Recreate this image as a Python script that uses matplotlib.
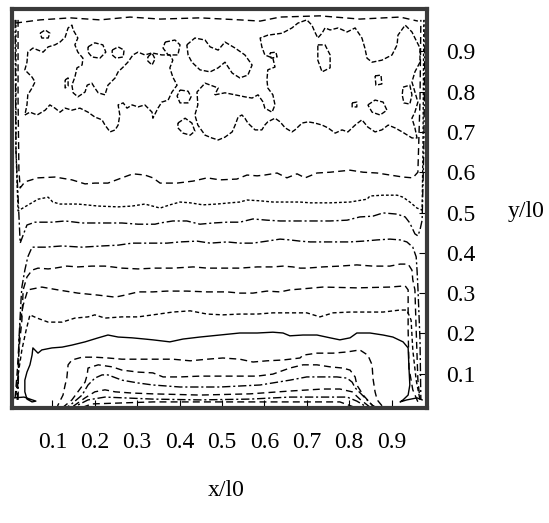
import matplotlib
matplotlib.use("Agg")
import matplotlib.pyplot as plt

# ---------------- data (x/l0, y/l0) ----------------
x_ticks = [0.1, 0.2, 0.3, 0.4, 0.5, 0.6, 0.7, 0.8, 0.9]
y_ticks = [0.1, 0.2, 0.3, 0.4, 0.5, 0.6, 0.7, 0.8, 0.9]
x_tick_labels = ["0.1", "0.2", "0.3", "0.4", "0.5", "0.6", "0.7", "0.8", "0.9"]
y_tick_labels = ["0.1", "0.2", "0.3", "0.4", "0.5", "0.6", "0.7", "0.8", "0.9"]

# iso-lines, top to bottom
line_a = [(0.019,0.978),(0.019,0.779),(0.021,0.605),(0.024,0.561),(0.035,0.576),(0.066,0.586),(0.106,0.588),
          (0.146,0.581),(0.177,0.571),(0.200,0.573),(0.231,0.573),(0.264,0.586),(0.290,0.596),(0.318,0.593),
          (0.337,0.586),(0.354,0.573),(0.394,0.573),(0.432,0.578),(0.465,0.586),(0.495,0.581),(0.535,0.583),
          (0.559,0.593),(0.583,0.591),(0.601,0.593),(0.630,0.598),(0.653,0.586),(0.677,0.596),(0.696,0.586),
          (0.724,0.598),(0.755,0.600),(0.802,0.605),(0.833,0.600),(0.866,0.598),(0.896,0.593),(0.927,0.588),
          (0.950,0.586),(0.962,0.600),(0.967,0.779),(0.969,0.978)]
line_b = [(0.014,0.978),(0.014,0.655),(0.019,0.504),(0.035,0.514),(0.066,0.533),(0.090,0.538),(0.101,0.526),
          (0.118,0.521),(0.160,0.521),(0.208,0.516),(0.255,0.514),(0.288,0.516),(0.318,0.521),(0.354,0.511),
          (0.377,0.519),(0.401,0.526),(0.425,0.524),(0.455,0.519),(0.488,0.521),(0.519,0.524),(0.542,0.526),
          (0.559,0.531),(0.590,0.529),(0.620,0.526),(0.653,0.526),(0.684,0.526),(0.708,0.524),(0.755,0.524),
          (0.802,0.526),(0.842,0.533),(0.849,0.541),(0.880,0.543),(0.913,0.543),(0.927,0.538),(0.943,0.526),
          (0.960,0.511),(0.972,0.506),(0.974,0.655),(0.976,0.978)]
line_c = [(0.012,0.978),(0.014,0.655),(0.024,0.424),(0.031,0.444),(0.040,0.469),(0.059,0.476),(0.099,0.476),
          (0.130,0.479),(0.170,0.474),(0.224,0.474),(0.264,0.474),(0.302,0.471),(0.342,0.471),(0.354,0.474),
          (0.384,0.479),(0.417,0.479),(0.448,0.471),(0.479,0.474),(0.512,0.476),(0.542,0.476),(0.573,0.484),
          (0.606,0.481),(0.637,0.479),(0.684,0.479),(0.708,0.479),(0.755,0.479),(0.795,0.481),(0.825,0.489),
          (0.856,0.491),(0.880,0.499),(0.913,0.496),(0.932,0.489),(0.943,0.474),(0.955,0.447),(0.962,0.442),
          (0.967,0.457),(0.972,0.481),(0.976,0.655),(0.979,0.978)]
line_d = [(0.019,0.035),(0.021,0.184),(0.026,0.283),(0.028,0.315),(0.035,0.357),(0.042,0.390),(0.052,0.414),
          (0.083,0.414),(0.123,0.417),(0.170,0.414),(0.217,0.417),(0.255,0.419),(0.288,0.424),(0.318,0.424),
          (0.342,0.424),(0.370,0.424),(0.401,0.427),(0.441,0.429),(0.472,0.424),(0.512,0.427),(0.542,0.424),
          (0.573,0.424),(0.606,0.429),(0.637,0.434),(0.660,0.432),(0.684,0.429),(0.708,0.427),(0.755,0.427),
          (0.802,0.427),(0.833,0.429),(0.866,0.432),(0.896,0.434),(0.920,0.432),(0.936,0.427),(0.950,0.414),
          (0.958,0.390),(0.960,0.357),(0.962,0.315),(0.967,0.184),(0.969,0.035)]
line_e = [(0.017,0.035),(0.021,0.159),(0.028,0.233),(0.031,0.308),(0.040,0.340),(0.052,0.357),(0.066,0.362),
          (0.090,0.360),(0.106,0.362),(0.134,0.367),(0.160,0.365),(0.193,0.367),(0.224,0.367),(0.241,0.365),
          (0.264,0.362),(0.302,0.360),(0.342,0.362),(0.384,0.362),(0.432,0.365),(0.465,0.362),(0.512,0.362),
          (0.542,0.362),(0.583,0.365),(0.620,0.365),(0.644,0.367),(0.667,0.365),(0.684,0.362),(0.700,0.362),
          (0.738,0.365),(0.778,0.367),(0.818,0.370),(0.856,0.367),(0.896,0.367),(0.920,0.372),(0.939,0.372),
          (0.948,0.357),(0.950,0.333),(0.955,0.308),(0.958,0.208),(0.962,0.084),(0.967,0.035)]
line_f = [(0.012,0.040),(0.017,0.104),(0.024,0.228),(0.031,0.270),(0.042,0.308),(0.075,0.315),(0.113,0.308),
          (0.160,0.300),(0.208,0.295),(0.248,0.290),(0.271,0.295),(0.302,0.303),(0.337,0.303),(0.370,0.305),
          (0.417,0.305),(0.465,0.303),(0.512,0.303),(0.542,0.300),(0.573,0.300),(0.606,0.305),(0.637,0.303),
          (0.660,0.308),(0.684,0.310),(0.738,0.315),(0.818,0.313),(0.896,0.315),(0.932,0.318),(0.939,0.308),
          (0.939,0.208),(0.941,0.114),(0.950,0.060),(0.962,0.030)]
line_g = [(0.014,0.047),(0.019,0.097),(0.028,0.159),(0.038,0.208),(0.047,0.246),(0.064,0.238),(0.090,0.228),
          (0.123,0.228),(0.153,0.238),(0.184,0.241),(0.200,0.246),(0.224,0.238),(0.264,0.241),(0.302,0.241),
          (0.337,0.246),(0.384,0.253),(0.425,0.256),(0.465,0.248),(0.502,0.246),(0.542,0.248),(0.583,0.248),
          (0.620,0.251),(0.660,0.251),(0.700,0.251),(0.731,0.241),(0.762,0.251),(0.802,0.253),(0.842,0.253),
          (0.880,0.253),(0.920,0.258),(0.936,0.258),(0.946,0.233),(0.950,0.159),(0.958,0.084),(0.967,0.035)]
line_h = [(0.009,0.040),(0.033,0.042),(0.061,0.032),(0.052,0.030),(0.040,0.037),(0.035,0.055),(0.035,0.084),
          (0.040,0.104),(0.047,0.122),(0.052,0.146),(0.054,0.164),(0.066,0.151),(0.075,0.159),(0.099,0.164),
          (0.123,0.166),(0.146,0.171),(0.177,0.179),(0.208,0.189),(0.231,0.196),(0.255,0.191),(0.288,0.189),
          (0.318,0.186),(0.337,0.184),(0.377,0.179),(0.408,0.186),(0.448,0.191),(0.495,0.196),(0.542,0.201),
          (0.583,0.201),(0.620,0.203),(0.644,0.201),(0.660,0.194),(0.691,0.196),(0.724,0.196),(0.755,0.189),
          (0.778,0.184),(0.802,0.189),(0.818,0.201),(0.849,0.201),(0.880,0.196),(0.903,0.191),(0.927,0.179),
          (0.939,0.164),(0.941,0.114),(0.943,0.072),(0.939,0.047),(0.927,0.035),(0.920,0.030),(0.936,0.035),
          (0.960,0.040),(0.972,0.035)]
line_i = [(0.111,0.010),(0.113,0.022),(0.125,0.047),(0.130,0.072),(0.134,0.089),(0.137,0.122),(0.146,0.134),
          (0.170,0.141),(0.200,0.141),(0.231,0.139),(0.264,0.136),(0.302,0.136),(0.337,0.136),(0.384,0.136),
          (0.425,0.132),(0.465,0.136),(0.502,0.139),(0.542,0.136),(0.573,0.129),(0.606,0.132),(0.644,0.134),
          (0.684,0.139),(0.691,0.146),(0.724,0.151),(0.762,0.151),(0.795,0.154),(0.825,0.159),(0.844,0.146),
          (0.854,0.122),(0.856,0.089),(0.861,0.055),(0.866,0.035),(0.880,0.017)]
line_j = [(0.123,0.015),(0.146,0.035),(0.160,0.055),(0.177,0.079),(0.182,0.097),(0.184,0.114),(0.208,0.122),
          (0.241,0.117),(0.264,0.109),(0.302,0.104),(0.337,0.102),(0.361,0.092),(0.401,0.092),(0.448,0.094),
          (0.502,0.094),(0.542,0.094),(0.583,0.094),(0.620,0.099),(0.660,0.114),(0.691,0.122),(0.724,0.122),
          (0.755,0.117),(0.785,0.114),(0.802,0.109),(0.814,0.092),(0.818,0.072),(0.833,0.047),(0.854,0.022),
          (0.866,0.015)]
line_k = [(0.123,0.010),(0.142,0.022),(0.170,0.047),(0.184,0.072),(0.200,0.089),(0.217,0.097),(0.231,0.097),
          (0.264,0.084),(0.302,0.077),(0.337,0.072),(0.401,0.067),(0.495,0.067),(0.590,0.072),(0.660,0.084),
          (0.700,0.092),(0.738,0.092),(0.771,0.092),(0.795,0.089),(0.807,0.079),(0.814,0.065),(0.842,0.035),
          (0.861,0.015)]
line_l = [(0.125,0.010),(0.146,0.017),(0.177,0.040),(0.200,0.055),(0.224,0.060),(0.248,0.055),(0.288,0.052),
          (0.337,0.050),(0.448,0.047),(0.566,0.050),(0.660,0.057),(0.738,0.062),(0.778,0.062),(0.807,0.055),
          (0.825,0.037),(0.849,0.017)]
line_m = [(0.137,0.010),(0.184,0.035),(0.224,0.042),(0.337,0.037),(0.448,0.035),(0.566,0.037),(0.660,0.042),
          (0.795,0.042),(0.818,0.032),(0.842,0.017)]
line_n = [(0.146,0.007),(0.193,0.025),(0.337,0.030),(0.566,0.030),(0.778,0.030),(0.830,0.010)]
line_top = [(0.012,0.970),(0.071,0.978),(0.142,0.983),(0.212,0.978),(0.283,0.985),(0.354,0.980),(0.448,0.983),
            (0.542,0.978),(0.590,0.975),(0.637,0.985),(0.731,0.988),(0.825,0.980),(0.920,0.985),(0.962,0.975)]

# irregular closed iso-lines in the upper part
blob_left = [(0.035,0.742),(0.047,0.749),(0.064,0.742),(0.083,0.754),(0.094,0.767),(0.106,0.759),(0.118,0.749),
             (0.130,0.759),(0.146,0.754),(0.165,0.759),(0.184,0.749),(0.200,0.737),(0.217,0.730),(0.224,0.717),
             (0.236,0.700),(0.248,0.705),(0.255,0.717),(0.259,0.742),(0.255,0.767),(0.267,0.772),(0.276,0.759),
             (0.288,0.767),(0.302,0.762),(0.318,0.767),(0.335,0.749),(0.337,0.734),(0.349,0.759),(0.358,0.774),
             (0.373,0.779),(0.382,0.799),(0.394,0.816),(0.384,0.836),(0.377,0.859),(0.384,0.878),(0.377,0.891),
             (0.358,0.891),(0.335,0.896),(0.318,0.891),(0.302,0.898),(0.290,0.891),(0.278,0.873),(0.267,0.861),
             (0.255,0.849),(0.248,0.834),(0.231,0.816),(0.224,0.792),(0.208,0.797),(0.200,0.809),(0.193,0.821),
             (0.182,0.816),(0.177,0.799),(0.160,0.787),(0.149,0.797),(0.146,0.816),(0.153,0.836),(0.158,0.859),
             (0.170,0.866),(0.172,0.883),(0.160,0.898),(0.153,0.916),(0.160,0.933),(0.149,0.953),(0.146,0.965),
             (0.137,0.958),(0.130,0.935),(0.118,0.923),(0.106,0.916),(0.090,0.911),(0.078,0.898),(0.066,0.903),
             (0.054,0.908),(0.042,0.898),(0.040,0.873),(0.035,0.854),(0.052,0.836),(0.059,0.824),(0.052,0.809),
             (0.042,0.792),(0.040,0.767),(0.035,0.742)]
blob_right = [(0.483,0.792),(0.507,0.797),(0.531,0.792),(0.554,0.787),(0.571,0.784),(0.585,0.792),(0.597,0.774),
              (0.601,0.759),(0.618,0.749),(0.625,0.767),(0.620,0.792),(0.608,0.809),(0.606,0.829),(0.608,0.854),
              (0.625,0.861),(0.620,0.883),(0.601,0.891),(0.594,0.911),(0.590,0.933),(0.608,0.940),(0.642,0.945),
              (0.665,0.958),(0.679,0.970),(0.700,0.978),(0.712,0.965),(0.719,0.948),(0.726,0.933),(0.736,0.945),
              (0.743,0.958),(0.755,0.953),(0.774,0.958),(0.795,0.948),(0.814,0.958),(0.830,0.933),(0.837,0.908),
              (0.842,0.883),(0.854,0.873),(0.877,0.878),(0.901,0.891),(0.913,0.916),(0.915,0.940),(0.932,0.965),
              (0.948,0.948),(0.955,0.933),(0.967,0.908),(0.967,0.873),(0.955,0.849),(0.948,0.824),(0.955,0.799),
              (0.962,0.774),(0.955,0.749),(0.948,0.734),(0.955,0.710),(0.960,0.685),(0.948,0.685),(0.925,0.700),
              (0.908,0.710),(0.892,0.717),(0.877,0.705),(0.861,0.700),(0.844,0.712),(0.830,0.730),(0.814,0.717),
              (0.797,0.700),(0.783,0.705),(0.767,0.697),(0.750,0.710),(0.736,0.717),(0.719,0.722),(0.703,0.725),
              (0.689,0.722),(0.672,0.705),(0.665,0.700),(0.649,0.710),(0.637,0.725),(0.625,0.734),(0.608,0.725),
              (0.601,0.717),(0.594,0.705),(0.578,0.705),(0.561,0.722),(0.554,0.734),(0.547,0.742),(0.538,0.737),
              (0.531,0.717),(0.524,0.700),(0.507,0.687),(0.491,0.680),(0.476,0.685),(0.460,0.692),(0.443,0.717),
              (0.436,0.742),(0.443,0.767),(0.441,0.799),(0.460,0.821),(0.491,0.809),(0.483,0.792)]
blob_mid = [(0.417,0.916),(0.436,0.933),(0.460,0.928),(0.472,0.911),(0.491,0.903),(0.507,0.923),(0.531,0.908),
            (0.554,0.891),(0.571,0.866),(0.561,0.841),(0.542,0.834),(0.524,0.846),(0.507,0.873),(0.491,0.859),
            (0.472,0.849),(0.448,0.854),(0.429,0.873),(0.420,0.891),(0.417,0.916)]
small_1 = [(0.071,0.945),(0.083,0.953),(0.094,0.945),(0.090,0.933),(0.075,0.933),(0.071,0.945)]
small_2 = [(0.184,0.911),(0.200,0.921),(0.219,0.916),(0.226,0.898),(0.212,0.883),(0.193,0.886),(0.184,0.898),(0.184,0.911)]
small_3 = [(0.241,0.903),(0.255,0.911),(0.269,0.903),(0.267,0.886),(0.250,0.883),(0.241,0.891),(0.241,0.903)]
small_4 = [(0.325,0.886),(0.335,0.896),(0.342,0.881),(0.335,0.866),(0.325,0.876),(0.325,0.886)]
small_5 = [(0.366,0.923),(0.389,0.928),(0.401,0.916),(0.396,0.891),(0.373,0.891),(0.361,0.908),(0.366,0.923)]
small_6 = [(0.130,0.829),(0.137,0.834),(0.137,0.814),(0.130,0.809),(0.130,0.829)]
small_7 = [(0.401,0.804),(0.420,0.801),(0.427,0.787),(0.420,0.772),(0.401,0.772),(0.394,0.789),(0.401,0.804)]
small_8 = [(0.396,0.722),(0.413,0.734),(0.429,0.722),(0.436,0.702),(0.425,0.692),(0.408,0.697),(0.396,0.710),(0.396,0.722)]
small_9 = [(0.726,0.916),(0.743,0.916),(0.755,0.891),(0.755,0.859),(0.736,0.849),(0.726,0.878),(0.726,0.916)]
small_10 = [(0.613,0.896),(0.627,0.898),(0.630,0.886),(0.616,0.883),(0.613,0.896)]
small_11 = [(0.861,0.839),(0.875,0.841),(0.877,0.819),(0.863,0.816),(0.861,0.839)]
small_12 = [(0.927,0.811),(0.943,0.816),(0.948,0.792),(0.943,0.769),(0.929,0.772),(0.925,0.792),(0.927,0.811)]
small_13 = [(0.844,0.767),(0.861,0.779),(0.880,0.774),(0.889,0.754),(0.873,0.742),(0.854,0.749),(0.844,0.767)]
small_14 = [(0.807,0.772),(0.818,0.774),(0.818,0.762),(0.807,0.762),(0.807,0.772)]

# ---------------- styles ----------------
DASH = (0, (5, 3))
FINE = (0, (2, 1.5))
DDOT = (0, (6, 2, 1.5, 2))
SDASH = (0, (3, 2))
TOPD = (0, (3.5, 1.5))

iso_lines = [
    (line_a, DASH), (line_b, FINE), (line_c, DDOT), (line_d, DDOT), (line_e, DASH),
    (line_f, DASH), (line_g, SDASH), (line_h, "-"), (line_i, DASH), (line_j, DASH),
    (line_k, DDOT), (line_l, DASH), (line_m, DDOT), (line_n, DASH), (line_top, DASH),
]
blobs = [blob_left, blob_right, blob_mid, small_1, small_2, small_3, small_4, small_5, small_6,
         small_7, small_8, small_9, small_10, small_11, small_12, small_13, small_14]

# ---------------- figure ----------------
W, H = 549, 523
fig = plt.figure(figsize=(W / 100, H / 100), dpi=100)
ax = fig.add_axes([12 / W, (H - 408) / H, 415 / W, 399 / H])
ax.set_xlim(0.0047, 0.9835)
ax.set_ylim(0.0149, 1.005)

for pts, ls in iso_lines:
    xs = [p[0] for p in pts]
    ys = [p[1] for p in pts]
    ax.plot(xs, ys, color="black", lw=1.0, linestyle=ls)

for pts in blobs:
    xs = [p[0] for p in pts]
    ys = [p[1] for p in pts]
    ax.plot(xs, ys, color="black", lw=1.0, linestyle=TOPD)

for s in ax.spines.values():
    s.set_linewidth(3.0)
    s.set_color("#3a3a3a")

font = dict(family="Liberation Serif", size=17)
ax.set_xticks(x_ticks)
ax.set_xticklabels(x_tick_labels, **font)
ax.set_yticks(y_ticks)
ax.set_yticklabels(y_tick_labels, **font)
ax.yaxis.tick_right()
ax.tick_params(axis="x", direction="in", length=6, width=0.8, pad=17, bottom=True, top=False)
ax.tick_params(axis="y", direction="in", length=6, width=0.8, pad=14, right=True, left=False)

fig.text(226 / W, 1 - 490 / H, "x/l0", ha="center", va="center", **font)
fig.text(526 / W, 1 - 212 / H, "y/l0", ha="center", va="center", **font)

fig.savefig("out.png", dpi=100)
